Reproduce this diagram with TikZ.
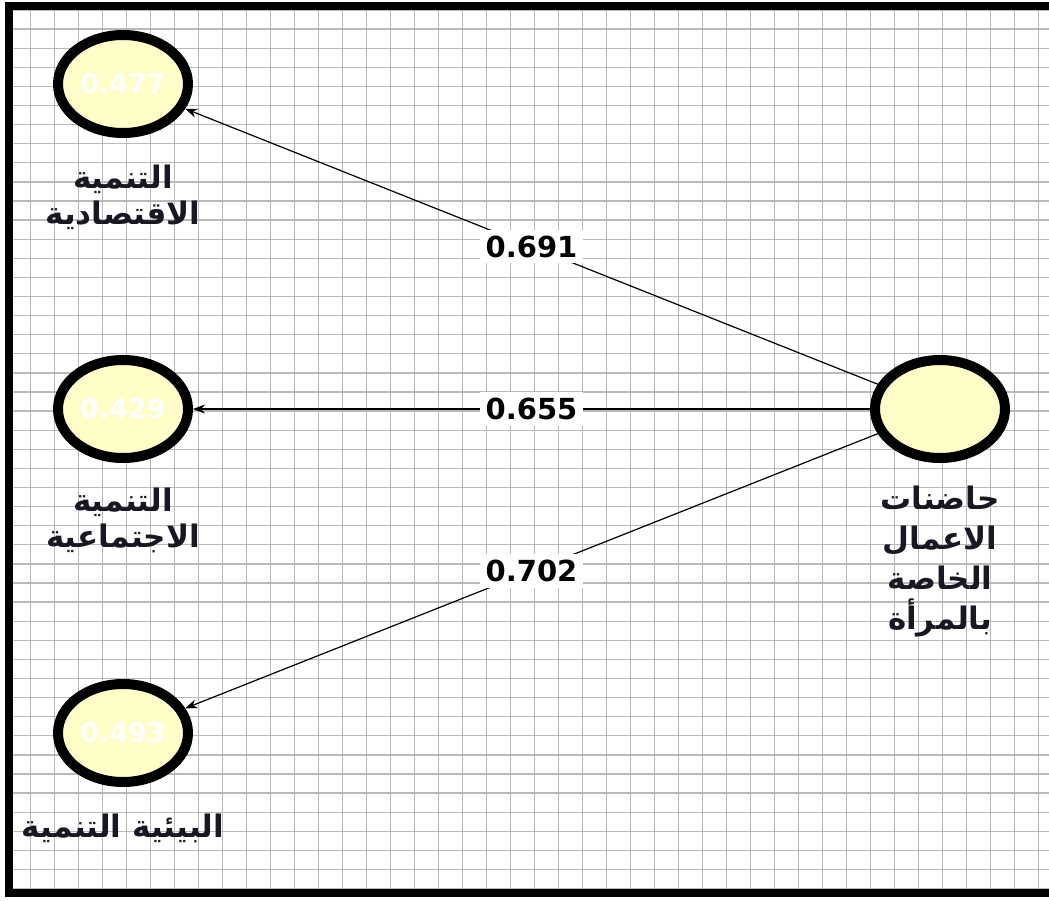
\documentclass[tikz,border=0pt]{standalone}
\usepackage{fontspec}
\setmainfont{DejaVu Sans}
\newfontfamily\arabicfont[Script=Arabic]{DejaVu Sans}
\TeXXeTstate=1
\usetikzlibrary{shapes.geometric,arrows.meta}
\definecolor{latentfill}{RGB}{255,253,200}
\definecolor{gridline}{RGB}{185,185,185}
\definecolor{labelink}{RGB}{24,24,34}
\newcommand{\artxt}[1]{{\arabicfont\bfseries\beginR #1\endR}}

\begin{document}
\begin{tikzpicture}[x=1pt,y=-1pt,
    latent/.style={ellipse,draw=black,line width=10pt,fill=latentfill,
      minimum width=130pt,minimum height=98pt,inner sep=0pt,
      text=white,font=\fontsize{27}{29}\selectfont\bfseries},
    varlabel/.style={align=center,text=labelink,font=\fontsize{31}{36}\selectfont},
    loading/.style={-{Stealth[length=12pt,width=9pt]},line width=1.2pt},
    coef/.style={fill=white,inner sep=6pt,font=\fontsize{29}{31}\selectfont\bfseries}]
  \useasboundingbox (0,0) rectangle (1049,900);
  % grid paper
  \foreach \k in {0,...,43}
    \draw[gridline,line width=1.3pt] (6.3+24*\k,5) -- (6.3+24*\k,893);
  \foreach \k in {0,...,46}
    \draw[gridline,line width=1.3pt] (9,10+19.1*\k) -- (1049,10+19.1*\k);
  % frame
  \draw[line width=8pt] (1060,5.5) -- (9,5.5) -- (9,892.5) -- (1060,892.5);

  % latent variables
  \node[latent] (econ) at (123,84) {0.477};
  \node[latent] (social) at (123,409) {0.429};
  \node[latent] (envir) at (123,733) {0.493};
  \node[latent] (incub) at (940,409) {};

  \node[varlabel] (econlbl) at (123,197) {\artxt{التنمية}\\\artxt{الاقتصادية}};
  \node[varlabel] (sociallbl) at (123,520) {\artxt{التنمية}\\\artxt{الاجتماعية}};
  \node[varlabel] (envirlbl) at (123,828) {\artxt{البيئية التنمية}};
  \node[varlabel,font=\fontsize{31}{40}\selectfont] (incublbl) at (940,561)
    {\artxt{حاضنات}\\\artxt{الاعمال}\\\artxt{الخاصة}\\\artxt{بالمرأة}};

  % paths
  \draw[loading] (incub) -- node[coef] {0.691} (econ);
  \draw[loading] (incub) -- node[coef] {0.655} (social);
  \draw[loading] (incub) -- node[coef] {0.702} (envir);
\end{tikzpicture}
\end{document}
